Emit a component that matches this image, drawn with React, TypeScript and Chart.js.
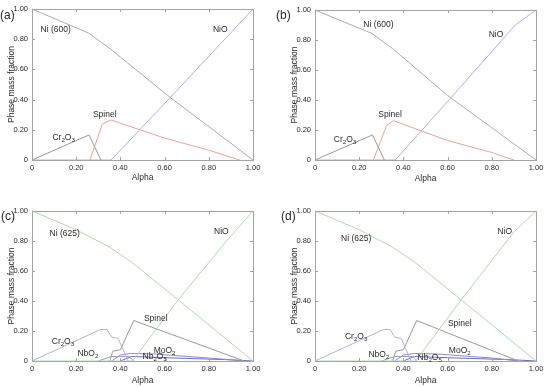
import React, { useEffect, useRef } from "react";
import { Chart, registerables } from "chart.js";
Chart.register(...registerables);

type P = [number, number];

const alphaTicks = [0, 0.2, 0.4, 0.6, 0.8, 1.0];
const fractionTicks = [0, 0.2, 0.4, 0.6, 0.8, 1.0];

// Panel (a)
const aNi: P[] = [[0, 1.0], [0.257, 0.84], [0.355, 0.735], [0.62, 0.42], [1.0, 0]];
const aNiO: P[] = [[0, 0], [0.358, 0], [0.615, 0.397], [1.0, 1.0]];
const aCr2O3: P[] = [[0, 0], [0.258, 0.166], [0.312, 0]];
const aSpinel: P[] = [[0.262, 0], [0.318, 0.238], [0.357, 0.265], [0.6, 0.145], [0.8, 0.065], [0.94, 0]];

// Panel (b)
const bNi: P[] = [[0, 1.0], [0.257, 0.844], [0.355, 0.738], [0.6, 0.43], [1.0, 0]];
const bNiO: P[] = [[0, 0], [0.363, 0], [0.6, 0.39], [0.906, 0.9], [1.0, 1.0]];
const bCr2O3: P[] = [[0, 0], [0.26, 0.167], [0.314, 0]];
const bSpinel: P[] = [[0.264, 0], [0.325, 0.233], [0.355, 0.262], [0.6, 0.13], [0.8, 0.05], [0.9, 0]];

// Panel (c)
const cNi: P[] = [[0, 1.0], [0.2, 0.875], [0.35, 0.76], [0.45, 0.66], [0.66, 0.41], [1.0, 0]];
const cNiO: P[] = [[0, 0], [0.455, 0], [0.66, 0.405], [0.88, 0.8], [1.0, 1.0]];
const cCr2O3: P[] = [[0, 0], [0.31, 0.21], [0.34, 0.21], [0.36, 0.16], [0.39, 0.15], [0.435, 0]];
const cSpinel: P[] = [[0.352, 0], [0.365, 0.065], [0.4, 0.075], [0.42, 0.14], [0.46, 0.27], [0.96, 0]];
const cNbO2: P[] = [[0.3, 0], [0.34, 0.02], [0.36, 0.03], [0.44, 0.03], [0.46, 0]];
const cMoO2: P[] = [[0.36, 0], [0.4, 0.04], [0.45, 0.05], [0.55, 0.047], [0.8, 0.02], [0.96, 0]];
const cNb2O5: P[] = [[0.4, 0], [0.45, 0.03], [0.6, 0.022], [0.9, 0.008], [1.0, 0]];

// Panel (d)
const dNi: P[] = [[0, 1.0], [0.2, 0.875], [0.35, 0.76], [0.45, 0.66], [0.66, 0.41], [1.0, 0]];
const dNiO: P[] = [[0, 0], [0.455, 0], [0.66, 0.405], [0.9, 0.86], [1.0, 1.0]];
const dCr2O3: P[] = [[0, 0], [0.31, 0.21], [0.34, 0.21], [0.36, 0.16], [0.39, 0.15], [0.435, 0]];
const dSpinel: P[] = [[0.352, 0], [0.365, 0.065], [0.4, 0.075], [0.42, 0.14], [0.46, 0.27], [0.92, 0]];
const dNbO2: P[] = [[0.3, 0], [0.34, 0.02], [0.36, 0.03], [0.44, 0.03], [0.46, 0]];
const dMoO2: P[] = [[0.36, 0], [0.4, 0.04], [0.45, 0.05], [0.55, 0.047], [0.8, 0.02], [0.92, 0]];
const dNb2O5: P[] = [[0.4, 0], [0.45, 0.03], [0.6, 0.022], [0.9, 0.008], [1.0, 0]];

// Text labels: [text, alpha, fraction]
type L = [string, number, number];
const aLabels: L[] = [["Ni (600)", 0.107, 0.863], ["NiO", 0.852, 0.863], ["Spinel", 0.329, 0.303], ["Cr_2O_3", 0.143, 0.15]];
const bLabels: L[] = [["Ni (600)", 0.287, 0.9], ["NiO", 0.819, 0.833], ["Spinel", 0.34, 0.3], ["Cr_2O_3", 0.136, 0.138]];
const cLabels: L[] = [["Ni (625)", 0.148, 0.85], ["NiO", 0.857, 0.86], ["Spinel", 0.56, 0.28], ["Cr_2O_3", 0.14, 0.13], ["NbO_2", 0.253, 0.05], ["Nb_2O_5", 0.555, 0.03], ["MoO_2", 0.6, 0.07]];
const dLabels: L[] = [["Ni (625)", 0.186, 0.818], ["NiO", 0.859, 0.86], ["Spinel", 0.655, 0.249], ["Cr_2O_3", 0.186, 0.16], ["NbO_2", 0.289, 0.044], ["Nb_2O_5", 0.519, 0.022], ["MoO_2", 0.655, 0.071]];

const FONT = "'Liberation Sans', Arial, sans-serif";
const FRAME = "#a4a4a4";
const TEXT = "#2a2a2a";

type Series = { data: P[]; color: string };

interface Panel {
  tag: string;
  left: number; top: number; w: number; h: number;
  area: { l: number; r: number; t: number; b: number };
  yTitlePad: number; xTitlePad: number;
  series: Series[];
  labels: L[];
}

const GRAY = "#acacac";
const GRAY2 = "#9a9a9a";
const RED = "#eca0a0";
const BLUE = "#aeb0ec";
const GREEN = "#b2d8b2";
const LAV = "#b2b2da";
const PURP = "#a898d0";
const NAVY = "#6a6ac8";

const panels: Panel[] = [
  {
    tag: "(a)", left: 0, top: 0, w: 275, h: 193,
    area: { l: 32, r: 253, t: 9, b: 160 }, yTitlePad: 6.5, xTitlePad: 10,
    series: [
      { data: aNi, color: GRAY }, { data: aCr2O3, color: GRAY2 },
      { data: aSpinel, color: RED }, { data: aNiO, color: BLUE },
    ],
    labels: aLabels,
  },
  {
    tag: "(b)", left: 275, top: 0, w: 275, h: 193,
    area: { l: 40, r: 261, t: 10, b: 160 }, yTitlePad: 15, xTitlePad: 9,
    series: [
      { data: bNi, color: GRAY }, { data: bCr2O3, color: GRAY2 },
      { data: bSpinel, color: RED }, { data: bNiO, color: BLUE },
    ],
    labels: bLabels,
  },
  {
    tag: "(c)", left: 0, top: 193, w: 275, h: 194,
    area: { l: 32, r: 253, t: 18, b: 168 }, yTitlePad: 6.5, xTitlePad: 1,
    series: [
      { data: cNi, color: GREEN }, { data: cNiO, color: GREEN },
      { data: cCr2O3, color: LAV }, { data: cSpinel, color: GRAY2 },
      { data: cNbO2, color: PURP }, { data: cMoO2, color: "#8a8acc" },
      { data: cNb2O5, color: NAVY },
    ],
    labels: cLabels,
  },
  {
    tag: "(d)", left: 275, top: 193, w: 275, h: 194,
    area: { l: 40, r: 261, t: 18, b: 168 }, yTitlePad: 14.5, xTitlePad: 1,
    series: [
      { data: dNi, color: GREEN }, { data: dNiO, color: GREEN },
      { data: dCr2O3, color: LAV }, { data: dSpinel, color: GRAY2 },
      { data: dNbO2, color: PURP }, { data: dMoO2, color: "#8a8acc" },
      { data: dNb2O5, color: NAVY },
    ],
    labels: dLabels,
  },
];

function fmt(v: number) {
  return Math.abs(v) < 1e-9 ? "0" : v.toFixed(2);
}

function drawChem(ctx: CanvasRenderingContext2D, text: string, cx: number, cy: number, size: number) {
  const segs: { t: string; sub: boolean }[] = [];
  for (let i = 0; i < text.length; i++) {
    if (text[i] === "_" && i + 1 < text.length) {
      segs.push({ t: text[i + 1], sub: true });
      i++;
    } else {
      const last = segs[segs.length - 1];
      if (last && !last.sub) last.t += text[i];
      else segs.push({ t: text[i], sub: false });
    }
  }
  const subSize = size * 0.72;
  let total = 0;
  const widths = segs.map((s) => {
    ctx.font = `${s.sub ? subSize : size}px ${FONT}`;
    const w = ctx.measureText(s.t).width;
    total += w;
    return w;
  });
  let x = cx - total / 2;
  ctx.textBaseline = "middle";
  ctx.textAlign = "left";
  segs.forEach((s, i) => {
    ctx.font = `${s.sub ? subSize : size}px ${FONT}`;
    ctx.fillText(s.t, x, s.sub ? cy + size * 0.3 : cy);
    x += widths[i];
  });
}

const decorPlugin = {
  id: "decor",
  afterDatasetsDraw(chart: any, _args: any, opts: any) {
    const { ctx, chartArea: ca, scales } = chart;
    const xs = scales.x, ys = scales.y;
    ctx.save();
    ctx.strokeStyle = FRAME;
    ctx.lineWidth = 1;
    ctx.strokeRect(Math.round(ca.left) + 0.5, Math.round(ca.top) + 0.5, Math.round(ca.right - ca.left), Math.round(ca.bottom - ca.top));
    const tl = 3;
    ctx.beginPath();
    alphaTicks.forEach((v) => {
      const px = Math.round(xs.getPixelForValue(v)) + 0.5;
      ctx.moveTo(px, ca.bottom); ctx.lineTo(px, ca.bottom - tl);
      ctx.moveTo(px, ca.top); ctx.lineTo(px, ca.top + tl);
    });
    fractionTicks.forEach((v) => {
      const py = Math.round(ys.getPixelForValue(v)) + 0.5;
      ctx.moveTo(ca.left, py); ctx.lineTo(ca.left + tl, py);
      ctx.moveTo(ca.right, py); ctx.lineTo(ca.right - tl, py);
    });
    ctx.stroke();
    ctx.fillStyle = TEXT;
    (opts.labels as L[]).forEach(([t, a, f]) => {
      drawChem(ctx, t, xs.getPixelForValue(a), ys.getPixelForValue(f), 8.5);
    });
    ctx.restore();
  },
};

function PanelChart({ p }: { p: Panel }) {
  const ref = useRef<HTMLCanvasElement>(null);
  useEffect(() => {
    if (!ref.current) return;
    const ar = p.area;
    const chart = new Chart(ref.current, {
      type: "scatter",
      data: {
        datasets: p.series.map((s) => ({
          data: s.data.map(([x, y]) => ({ x, y })),
          showLine: true,
          borderColor: s.color,
          backgroundColor: s.color,
          borderWidth: 1,
          pointRadius: 0,
          tension: 0,
          clip: 3,
        })),
      },
      options: {
        animation: false,
        responsive: false,
        devicePixelRatio: 1,
        layout: { padding: { left: 0, top: ar.t, right: p.w - ar.r, bottom: 0 } },
        plugins: {
          legend: { display: false },
          tooltip: { enabled: false },
          decor: { labels: p.labels },
        } as any,
        scales: {
          x: {
            type: "linear", min: 0, max: 1,
            afterBuildTicks: (s: any) => { s.ticks = alphaTicks.map((v) => ({ value: v })); },
            afterFit: (s: any) => { s.height = p.h - ar.b; },
            grid: { display: false, drawTicks: false },
            border: { display: false },
            ticks: { padding: 3, color: TEXT, font: { family: FONT, size: 7.5 }, callback: (v: any) => fmt(Number(v)), maxRotation: 0 },
            title: { display: true, text: "Alpha", color: TEXT, font: { family: FONT, size: 8.5 }, padding: { top: 0, bottom: p.xTitlePad } },
          },
          y: {
            type: "linear", min: 0, max: 1,
            afterBuildTicks: (s: any) => { s.ticks = fractionTicks.map((v) => ({ value: v })); },
            afterFit: (s: any) => { s.width = ar.l; },
            grid: { display: false, drawTicks: false },
            border: { display: false },
            ticks: { padding: 4, color: TEXT, font: { family: FONT, size: 7.5 }, callback: (v: any) => fmt(Number(v)) },
            title: { display: true, text: "Phase mass fraction", color: TEXT, font: { family: FONT, size: 8.5 }, padding: { top: p.yTitlePad, bottom: 0 } },
          },
        },
      } as any,
      plugins: [decorPlugin as any],
    });
    return () => chart.destroy();
  }, [p]);
  return (
    <div style={{ position: "absolute", left: p.left, top: p.top, width: p.w, height: p.h }}>
      <canvas ref={ref} width={p.w} height={p.h} style={{ display: "block" }} />
    </div>
  );
}

const tagPos: [number, number][] = [[9, 15], [285, 15], [10, 216], [290, 216]];

export default function App() {
  return (
    <div style={{ position: "fixed", left: 0, top: 0, width: 550, height: 387, background: "#fff", overflow: "hidden" }}>
      {panels.map((p) => (
        <PanelChart key={p.tag} p={p} />
      ))}
      {panels.map((p, i) => (
        <div
          key={p.tag + "t"}
          style={{
            position: "absolute", left: tagPos[i][0] - 9, top: tagPos[i][1] - 8, height: 16, lineHeight: "16px",
            fontFamily: FONT, fontSize: 12, color: TEXT,
          }}
        >
          {p.tag}
        </div>
      ))}
    </div>
  );
}
